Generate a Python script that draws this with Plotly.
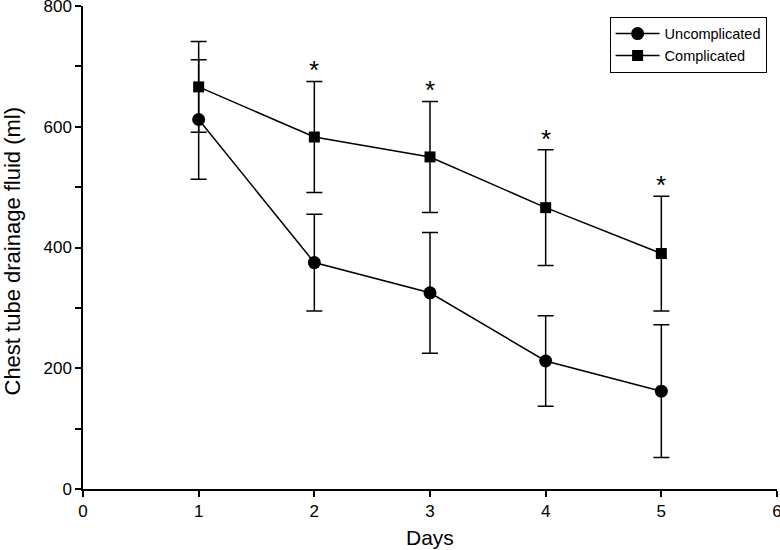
import plotly.graph_objects as go

days = [1, 2, 3, 4, 5]
uncomp_mean = [612, 375, 325, 212, 162]
uncomp_sd = [99, 80, 100, 75, 110]
comp_mean = [666, 583, 550, 466, 390]
comp_sd = [75, 92, 92, 96, 95]
sig_days = [2, 3, 4, 5]

font_family = "Liberation Sans, Arial, Helvetica, sans-serif"

fig = go.Figure()
fig.add_trace(go.Scatter(
    x=days, y=uncomp_mean, mode="lines+markers", name="Uncomplicated",
    line=dict(color="black", width=1.5),
    marker=dict(symbol="circle", size=13, color="black"),
    error_y=dict(type="data", array=uncomp_sd, visible=True, color="black", thickness=1.5, width=8),
))
fig.add_trace(go.Scatter(
    x=days, y=comp_mean, mode="lines+markers", name="Complicated",
    line=dict(color="black", width=1.5),
    marker=dict(symbol="square", size=11, color="black"),
    error_y=dict(type="data", array=comp_sd, visible=True, color="black", thickness=1.5, width=8),
))

for d in sig_days:
    i = days.index(d)
    fig.add_annotation(x=d, y=comp_mean[i] + comp_sd[i], text="*", showarrow=False,
                       yanchor="bottom", yshift=-6, font=dict(size=26, color="black", family=font_family))

# axis titles as annotations for precise placement
fig.add_annotation(x=0, y=0.5, xref="paper", yref="paper", text="Chest tube drainage fluid (ml)",
                   showarrow=False, textangle=-90, xanchor="center", yanchor="middle", xshift=-71, yshift=-4,
                   font=dict(size=22, color="black", family=font_family))
fig.add_annotation(x=0.5, y=0, xref="paper", yref="paper", text="Days",
                   showarrow=False, xanchor="center", yanchor="middle", yshift=-48,
                   font=dict(size=21, color="black", family=font_family))

fig.update_layout(
    width=780, height=550,
    margin=dict(l=83, r=3, t=6, b=61, autoexpand=False),
    paper_bgcolor="white", plot_bgcolor="white",
    font=dict(family=font_family, color="black", size=17),
    showlegend=True,
    legend=dict(x=0.985, y=0.978, xanchor="right", yanchor="top",
                bordercolor="black", borderwidth=1, bgcolor="white",
                font=dict(size=14.5), tracegroupgap=0, itemwidth=44),
)
fig.update_xaxes(range=[0, 6], tickvals=[0, 1, 2, 3, 4, 5, 6], showline=True, linecolor="black",
                 linewidth=1.5, ticks="outside", ticklen=6, tickwidth=1.5, tickcolor="black",
                 showgrid=False, zeroline=False, automargin=False, ticklabeloverflow="allow",
                 tickfont=dict(size=17))
fig.update_yaxes(range=[0, 800], tickvals=[0, 200, 400, 600, 800], showline=True, linecolor="black",
                 linewidth=1.5, ticks="outside", ticklen=6, tickwidth=1.5, tickcolor="black",
                 minor=dict(tickvals=[100, 300, 500, 700], ticks="outside", ticklen=6, tickwidth=1.5, tickcolor="black"),
                 showgrid=False, zeroline=False, automargin=False, ticklabeloverflow="allow",
                 tickfont=dict(size=17))

fig.write_html("out.html", config={"displayModeBar": False},
               post_script="document.body.style.margin='0';document.body.style.padding='0';")
